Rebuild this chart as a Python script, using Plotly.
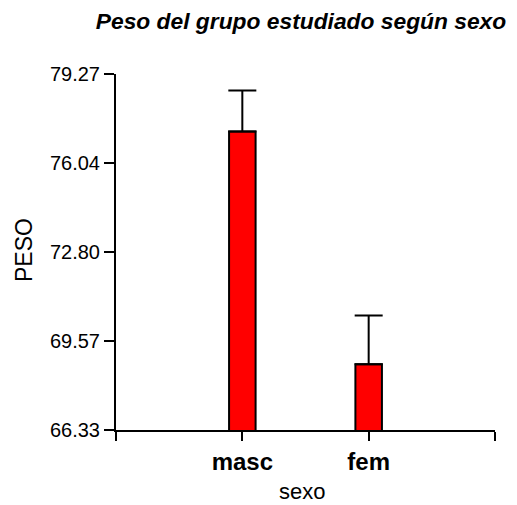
import plotly.graph_objects as go

categories = ["masc", "fem"]
positions = [1, 2]
peso_mean = [77.18, 68.72]
peso_err_upper = [1.49, 1.77]
y_ticks = [66.33, 69.57, 72.80, 76.04, 79.27]
y_ticktext = ["66.33", "69.57", "72.80", "76.04", "79.27"]

W, H = 509, 497
L, R, T, B = 108, 22, 66, 75
pw, ph = W - L - R, H - T - B

fig = go.Figure()
fig.add_trace(go.Bar(
    x=positions,
    y=peso_mean,
    width=0.21,
    marker=dict(color="#ff0000", line=dict(color="black", width=2)),
    error_y=dict(type="data", symmetric=False, array=peso_err_upper,
                 arrayminus=[0, 0], color="black", thickness=2, width=14),
))

fig.add_annotation(text="sexo", xref="paper", yref="paper",
                   x=(294 - L) / pw, y=-(483.5 - (T + ph)) / ph,
                   xanchor="center", yanchor="middle", showarrow=False,
                   font=dict(size=22, color="black"))
fig.add_annotation(text="PESO", xref="paper", yref="paper",
                   x=(16 - L) / pw, y=((T + ph) - 242) / ph, textangle=-90,
                   xanchor="center", yanchor="middle", showarrow=False,
                   font=dict(size=23, color="black"))

fig.update_layout(
    width=W, height=H,
    margin=dict(l=L, r=R, t=T, b=B, autoexpand=False),
    paper_bgcolor="white", plot_bgcolor="white",
    showlegend=False,
    font=dict(family="Liberation Sans", color="black"),
    title=dict(text="<b><i>Peso del grupo estudiado según sexo</i></b>",
               x=293 / W, xanchor="center", xref="container",
               y=1 - 13 / H, yref="container", yanchor="middle",
               font=dict(size=22.8, color="black"), automargin=False),
    xaxis=dict(range=[0, 3], tickvals=[0, 1, 2, 3],
               ticktext=["", "<b>masc</b>", "<b>fem</b>", ""],
               ticks="outside", ticklen=9, tickwidth=2, tickcolor="black",
               showline=True, linecolor="black", linewidth=2,
               showgrid=False, zeroline=False, automargin=False,
               tickfont=dict(size=24)),
    yaxis=dict(range=[66.33, 79.27], tickvals=y_ticks, ticktext=y_ticktext,
               ticks="outside", ticklen=10, tickwidth=2, tickcolor="black",
               showline=True, linecolor="black", linewidth=2,
               showgrid=False, zeroline=False, automargin=False,
               tickfont=dict(size=20)),
)

fig.write_html("out.html")
